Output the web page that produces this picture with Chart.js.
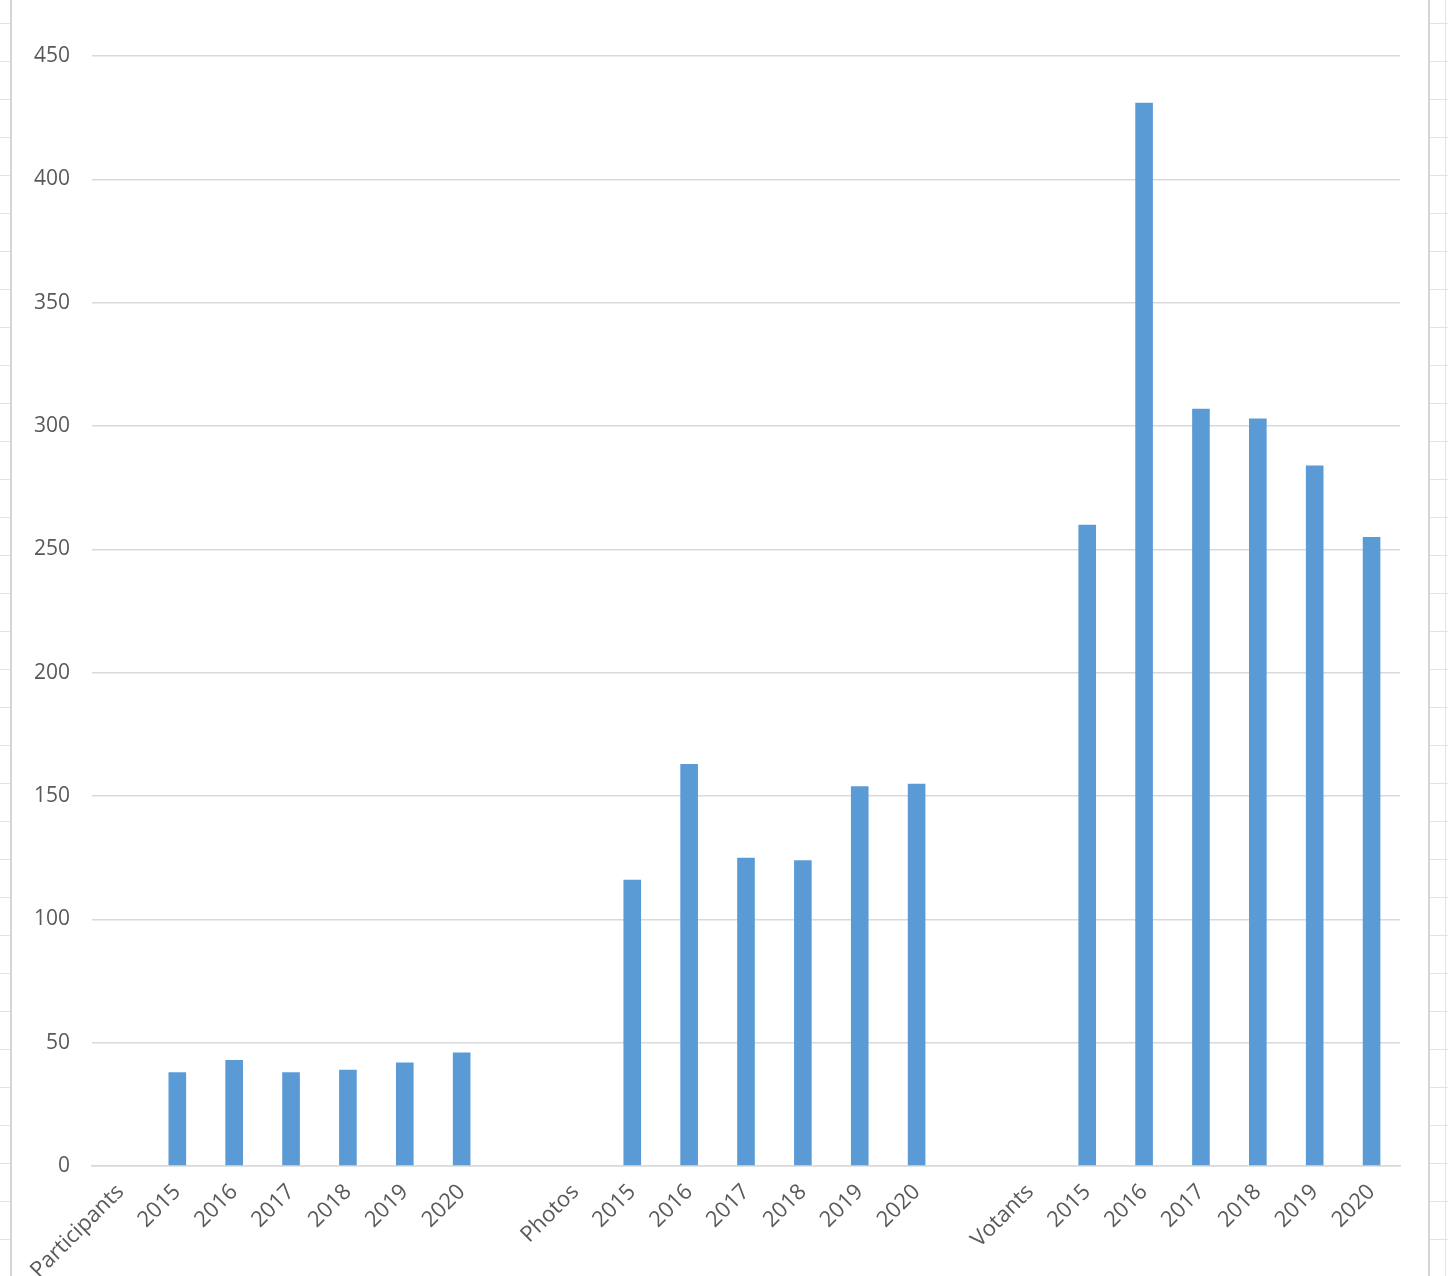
<!DOCTYPE html>
<html>
<head>
<meta charset="utf-8">
<script src="https://cdn.jsdelivr.net/npm/chart.js@4/dist/chart.umd.min.js"></script>
<style>
  html, body { margin: 0; padding: 0; }
  body {
    width: 1448px; height: 1276px; overflow: hidden;
    background: #fff repeating-linear-gradient(to bottom, transparent 0 23px, #e3e3e3 23px 24px, transparent 24px 38px);
    position: relative;
  }
  #sheet {
    position: absolute; left: 10px; top: 0; width: 1416px; height: 1276px;
    background: #fff;
    border-left: 2px solid #d4d4d4; border-right: 2px solid #d4d4d4;
  }
  #rcol { position: absolute; left: 1445px; top: 0; width: 1px; height: 1276px; background: #e3e3e3; }
  #wrap { position: absolute; left: 0; top: 0; width: 1448px; height: 1276px; }
</style>
</head>
<body>
<div id="sheet"></div>
<div id="rcol"></div>
<div id="wrap"><canvas id="chart"></canvas></div>
<script>
document.addEventListener("DOMContentLoaded", function () {

    // categories: three groups of years, separated by an empty slot
    const labels = [
        'Participants', '2015', '2016', '2017', '2018', '2019', '2020', '',
        'Photos', '2015', '2016', '2017', '2018', '2019', '2020', '',
        'Votants', '2015', '2016', '2017', '2018', '2019', '2020'
    ];

    const participants = [38, 43, 38, 39, 42, 46];
    const photos       = [116, 163, 125, 124, 154, 155];
    const votants      = [260, 431, 307, 303, 284, 255];

    const yTicks = [0, 50, 100, 150, 200, 250, 300, 350, 400, 450];

    const values = [null].concat(participants, [null, null], photos, [null, null], votants);

    const textColor = '#595959';
    const gridColor = '#d9d9d9';
    const font  = { family: "'Open Sans', 'Liberation Sans', sans-serif", size: 21 };
    const xFont = { family: "'Open Sans', 'Liberation Sans', sans-serif", size: 22 };

    new Chart(document.getElementById('chart'), {

        type: 'bar',

        data: {
            labels: labels,
            datasets: [{
                data: values,
                backgroundColor: '#5b9bd5',
                borderWidth: 0,
                barPercentage: 0.31,
                categoryPercentage: 1
            }]
        },

        options: {
            responsive: true,
            maintainAspectRatio: false,
            animation: false,

            layout: {
                padding: { top: 56, bottom: 0, left: 0, right: 48 }
            },

            scales: {
                y: {
                    min: 0,
                    max: 450,
                    afterFit: function (scale) { scale.width = 92; },
                    afterBuildTicks: function (scale) {
                        scale.ticks = yTicks.map(v => ({ value: v }));
                    },
                    border: { display: false },
                    grid: { color: gridColor, lineWidth: 1.5, drawTicks: false },
                    ticks: { color: textColor, font: font, padding: 22 }
                },
                x: {
                    afterFit: function (scale) { scale.height = 110; },
                    border: { color: gridColor, width: 1.5 },
                    grid: { display: false },
                    ticks: {
                        color: textColor,
                        font: xFont,
                        minRotation: 45,
                        maxRotation: 45,
                        autoSkip: false,
                        padding: 5
                    }
                }
            },

            plugins: {
                legend: { display: false },
                tooltip: { enabled: false }
            }
        }
    });
});
</script>
</body>
</html>
